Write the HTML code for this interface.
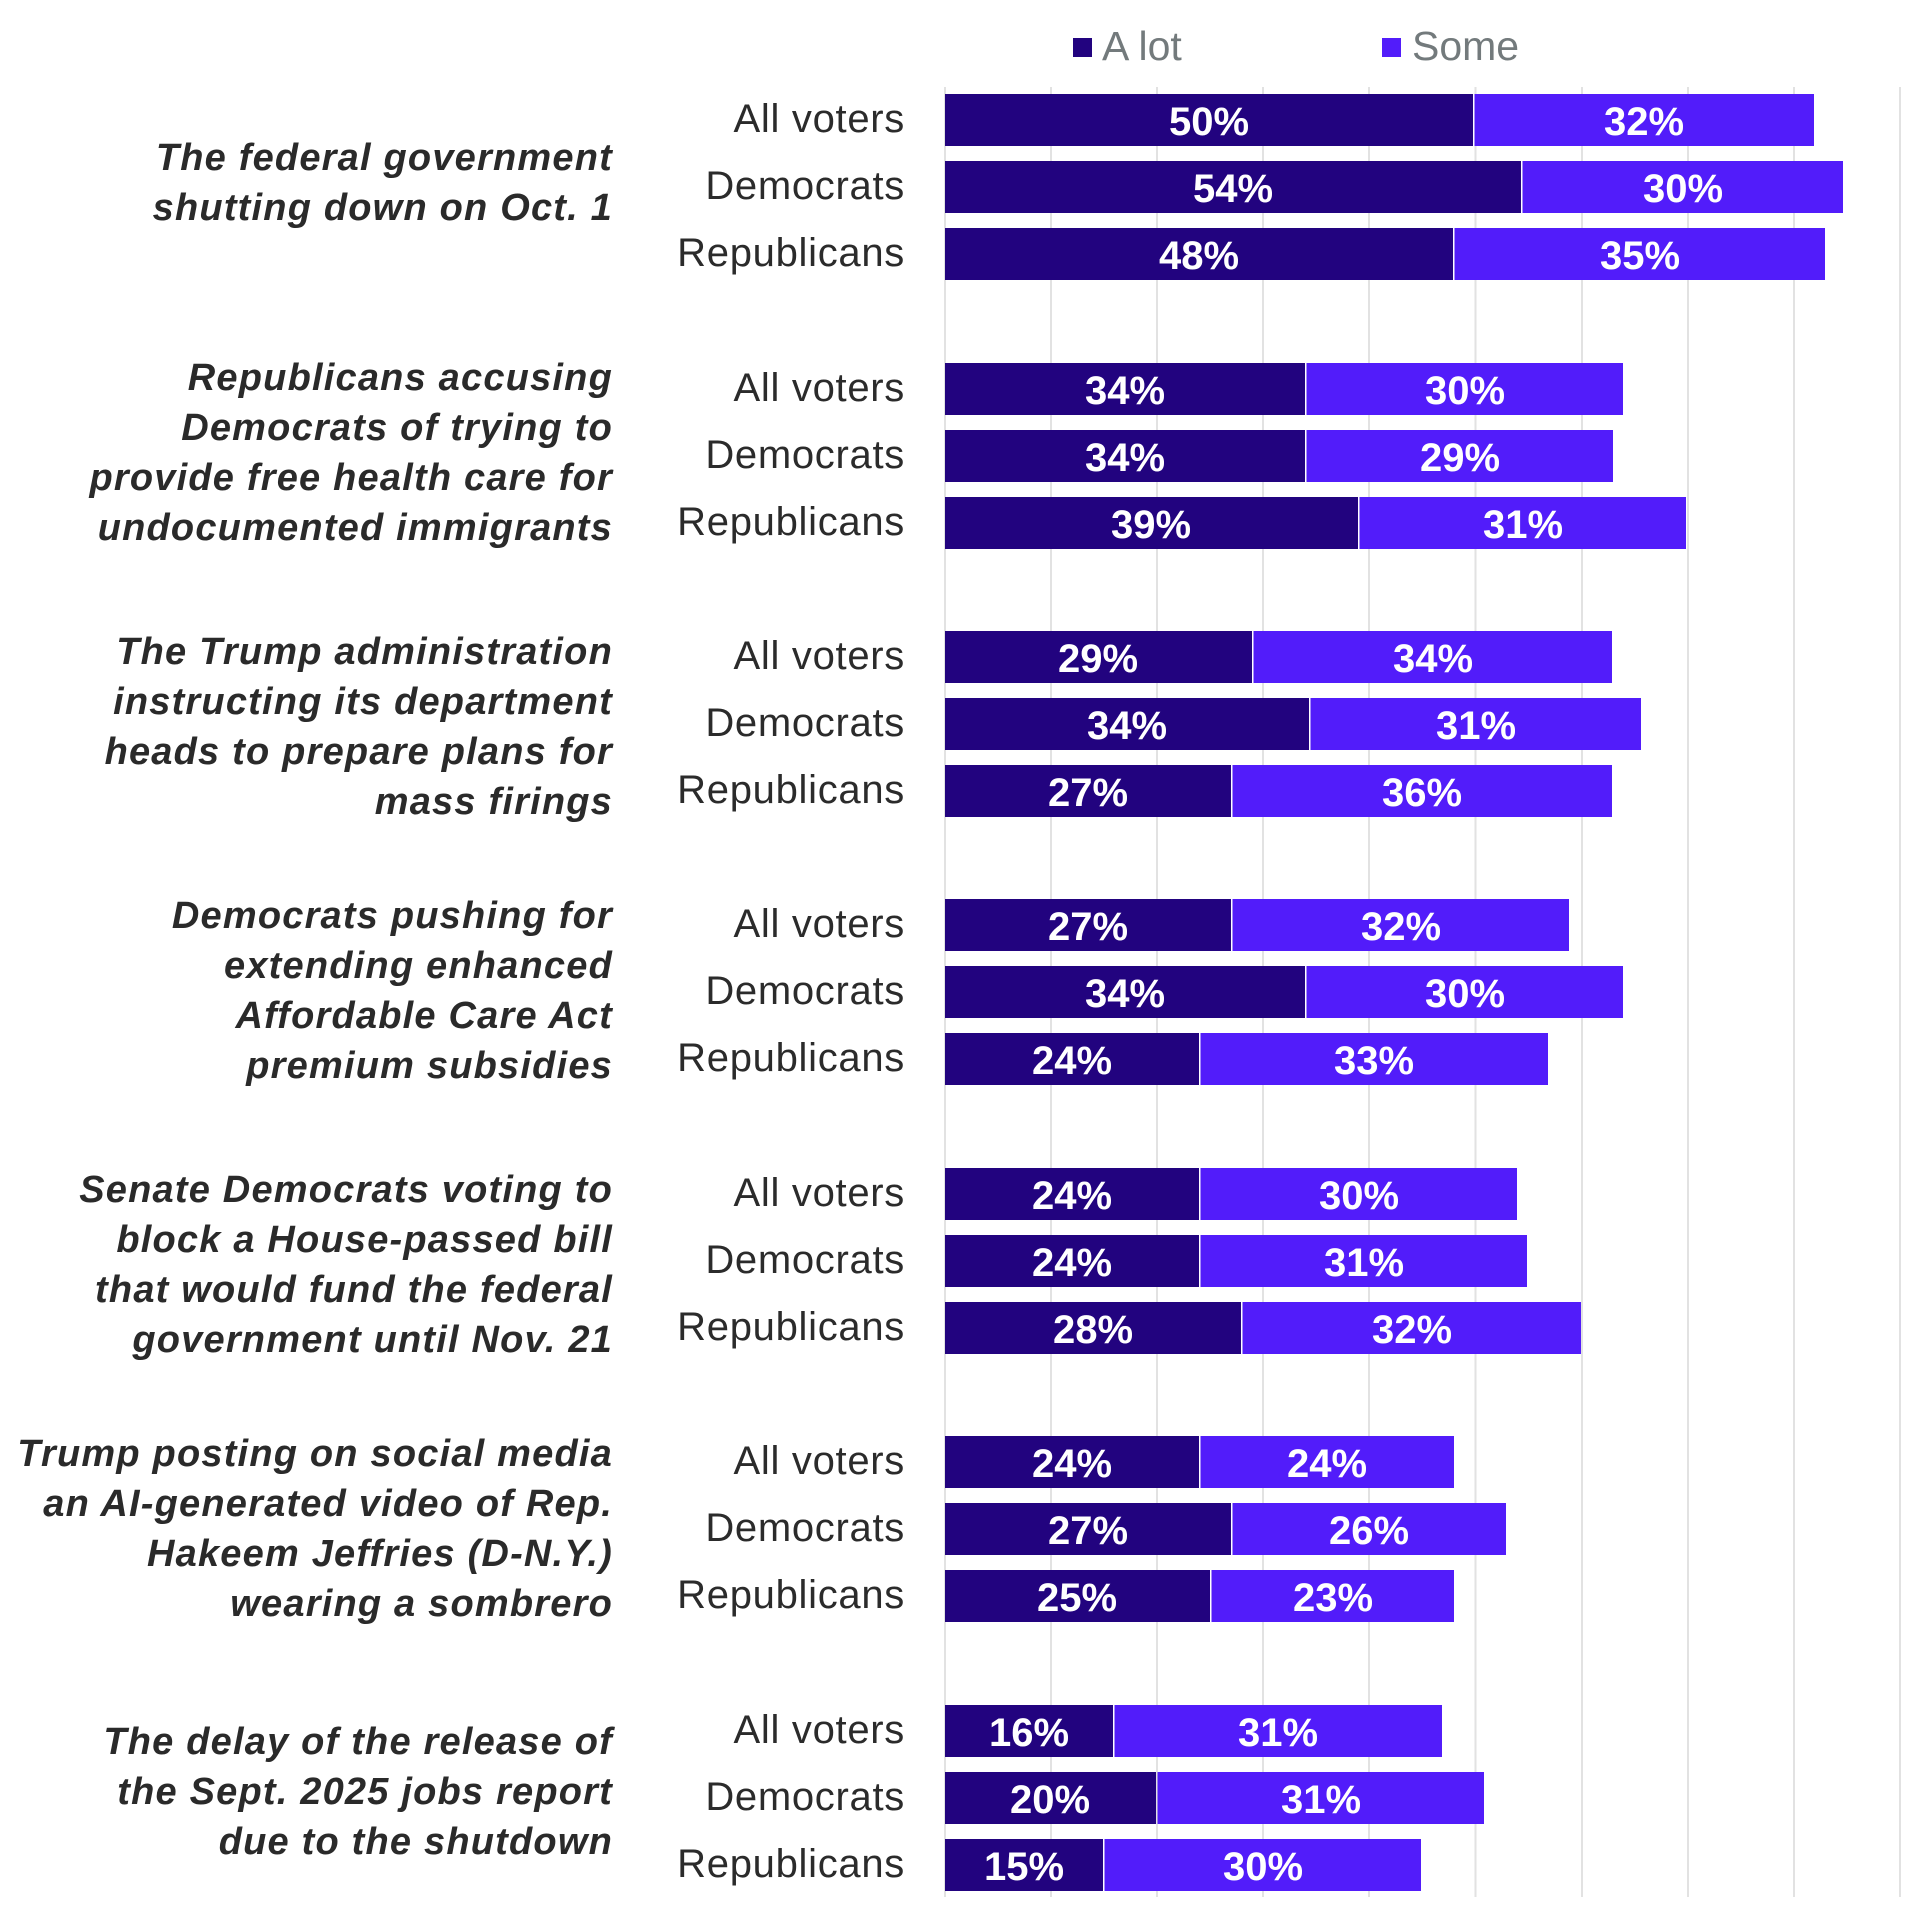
<!DOCTYPE html>
<html>
<head>
<meta charset="utf-8">
<style>
  html, body { margin: 0; padding: 0; background: #ffffff; }
  svg { display: block; }
  .q { font-family: "Liberation Sans", Arial, sans-serif; font-weight: bold; font-style: italic; font-size: 38px; fill: #2a2a2a; letter-spacing: 1.2px; }
  .r { font-family: "Liberation Sans", Arial, sans-serif; font-size: 40px; fill: #2b2b2b; letter-spacing: 0.7px; }
  .v { font-family: "Liberation Sans", Arial, sans-serif; font-weight: bold; font-size: 40px; fill: #ffffff; }
  .lg { font-family: "Liberation Sans", Arial, sans-serif; font-size: 41px; fill: #737a7c; }
</style>
</head>
<body>
<svg width="1920" height="1920" viewBox="0 0 1920 1920" xmlns="http://www.w3.org/2000/svg">
  <rect x="0" y="0" width="1920" height="1920" fill="#ffffff"/>

  <!-- Legend -->
  <rect x="1073" y="38" width="19" height="19" fill="#22037f"/>
  <text class="lg" x="1102" y="60">A lot</text>
  <rect x="1382" y="38" width="19" height="19" fill="#521cfa"/>
  <text class="lg" x="1412" y="60">Some</text>

  <!-- Gridlines -->
  <g stroke="#e2e2e2" stroke-width="2">
    <line x1="945" y1="87" x2="945" y2="1897"/>
    <line x1="1051" y1="87" x2="1051" y2="1897"/>
    <line x1="1157" y1="87" x2="1157" y2="1897"/>
    <line x1="1263" y1="87" x2="1263" y2="1897"/>
    <line x1="1369" y1="87" x2="1369" y2="1897"/>
    <line x1="1475.5" y1="87" x2="1475.5" y2="1897"/>
    <line x1="1582" y1="87" x2="1582" y2="1897"/>
    <line x1="1688" y1="87" x2="1688" y2="1897"/>
    <line x1="1794" y1="87" x2="1794" y2="1897"/>
    <line x1="1900" y1="87" x2="1900" y2="1897"/>
  </g>

  <!-- Bars: dark (A lot) -->
  <g fill="#22037f">
    <rect x="945" y="94" width="528" height="52"/>
    <rect x="945" y="161" width="576" height="52"/>
    <rect x="945" y="228" width="508" height="52"/>

    <rect x="945" y="363" width="360" height="52"/>
    <rect x="945" y="430" width="360" height="52"/>
    <rect x="945" y="497" width="413" height="52"/>

    <rect x="945" y="631" width="307" height="52"/>
    <rect x="945" y="698" width="364" height="52"/>
    <rect x="945" y="765" width="286" height="52"/>

    <rect x="945" y="899" width="286" height="52"/>
    <rect x="945" y="966" width="360" height="52"/>
    <rect x="945" y="1033" width="254" height="52"/>

    <rect x="945" y="1168" width="254" height="52"/>
    <rect x="945" y="1235" width="254" height="52"/>
    <rect x="945" y="1302" width="296" height="52"/>

    <rect x="945" y="1436" width="254" height="52"/>
    <rect x="945" y="1503" width="286" height="52"/>
    <rect x="945" y="1570" width="265" height="52"/>

    <rect x="945" y="1705" width="168" height="52"/>
    <rect x="945" y="1772" width="211" height="52"/>
    <rect x="945" y="1839" width="158" height="52"/>
  </g>

  <!-- Bars: bright (Some) -->
  <g fill="#521cfa">
    <rect x="1474.5" y="94" width="339.5" height="52"/>
    <rect x="1522.5" y="161" width="320.5" height="52"/>
    <rect x="1454.5" y="228" width="370.5" height="52"/>

    <rect x="1306.5" y="363" width="316.5" height="52"/>
    <rect x="1306.5" y="430" width="306.5" height="52"/>
    <rect x="1359.5" y="497" width="326.5" height="52"/>

    <rect x="1253.5" y="631" width="358.5" height="52"/>
    <rect x="1310.5" y="698" width="330.5" height="52"/>
    <rect x="1232.5" y="765" width="379.5" height="52"/>

    <rect x="1232.5" y="899" width="336.5" height="52"/>
    <rect x="1306.5" y="966" width="316.5" height="52"/>
    <rect x="1200.5" y="1033" width="347.5" height="52"/>

    <rect x="1200.5" y="1168" width="316.5" height="52"/>
    <rect x="1200.5" y="1235" width="326.5" height="52"/>
    <rect x="1242.5" y="1302" width="338.5" height="52"/>

    <rect x="1200.5" y="1436" width="253.5" height="52"/>
    <rect x="1232.5" y="1503" width="273.5" height="52"/>
    <rect x="1211.5" y="1570" width="242.5" height="52"/>

    <rect x="1114.5" y="1705" width="327.5" height="52"/>
    <rect x="1157.5" y="1772" width="326.5" height="52"/>
    <rect x="1104.5" y="1839" width="316.5" height="52"/>
  </g>

  <!-- Value labels -->
  <g class="v" text-anchor="middle">
    <text x="1209" y="135">50%</text><text x="1644" y="135">32%</text>
    <text x="1233" y="202">54%</text><text x="1683" y="202">30%</text>
    <text x="1199" y="269">48%</text><text x="1640" y="269">35%</text>

    <text x="1125" y="404">34%</text><text x="1465" y="404">30%</text>
    <text x="1125" y="471">34%</text><text x="1460" y="471">29%</text>
    <text x="1151" y="538">39%</text><text x="1523" y="538">31%</text>

    <text x="1098" y="672">29%</text><text x="1433" y="672">34%</text>
    <text x="1127" y="739">34%</text><text x="1476" y="739">31%</text>
    <text x="1088" y="806">27%</text><text x="1422" y="806">36%</text>

    <text x="1088" y="940">27%</text><text x="1401" y="940">32%</text>
    <text x="1125" y="1007">34%</text><text x="1465" y="1007">30%</text>
    <text x="1072" y="1074">24%</text><text x="1374" y="1074">33%</text>

    <text x="1072" y="1209">24%</text><text x="1359" y="1209">30%</text>
    <text x="1072" y="1276">24%</text><text x="1364" y="1276">31%</text>
    <text x="1093" y="1343">28%</text><text x="1412" y="1343">32%</text>

    <text x="1072" y="1477">24%</text><text x="1327" y="1477">24%</text>
    <text x="1088" y="1544">27%</text><text x="1369" y="1544">26%</text>
    <text x="1077" y="1611">25%</text><text x="1333" y="1611">23%</text>

    <text x="1029" y="1746">16%</text><text x="1278" y="1746">31%</text>
    <text x="1050" y="1813">20%</text><text x="1321" y="1813">31%</text>
    <text x="1024" y="1880">15%</text><text x="1263" y="1880">30%</text>
  </g>

  <!-- Row labels -->
  <g class="r" text-anchor="end">
    <text x="905" y="132">All voters</text>
    <text x="905" y="199">Democrats</text>
    <text x="905" y="266">Republicans</text>

    <text x="905" y="401">All voters</text>
    <text x="905" y="468">Democrats</text>
    <text x="905" y="535">Republicans</text>

    <text x="905" y="669">All voters</text>
    <text x="905" y="736">Democrats</text>
    <text x="905" y="803">Republicans</text>

    <text x="905" y="937">All voters</text>
    <text x="905" y="1004">Democrats</text>
    <text x="905" y="1071">Republicans</text>

    <text x="905" y="1206">All voters</text>
    <text x="905" y="1273">Democrats</text>
    <text x="905" y="1340">Republicans</text>

    <text x="905" y="1474">All voters</text>
    <text x="905" y="1541">Democrats</text>
    <text x="905" y="1608">Republicans</text>

    <text x="905" y="1743">All voters</text>
    <text x="905" y="1810">Democrats</text>
    <text x="905" y="1877">Republicans</text>
  </g>

  <!-- Question labels -->
  <g class="q" text-anchor="end">
    <text x="613" y="170">The federal government</text>
    <text x="613" y="220">shutting down on Oct. 1</text>

    <text x="613" y="390">Republicans accusing</text>
    <text x="613" y="440">Democrats of trying to</text>
    <text x="613" y="490">provide free health care for</text>
    <text x="613" y="540">undocumented immigrants</text>

    <text x="613" y="664">The Trump administration</text>
    <text x="613" y="714">instructing its department</text>
    <text x="613" y="764">heads to prepare plans for</text>
    <text x="613" y="814">mass firings</text>

    <text x="613" y="928">Democrats pushing for</text>
    <text x="613" y="978">extending enhanced</text>
    <text x="613" y="1028">Affordable Care Act</text>
    <text x="613" y="1078">premium subsidies</text>

    <text x="613" y="1202">Senate Democrats voting to</text>
    <text x="613" y="1252">block a House-passed bill</text>
    <text x="613" y="1302">that would fund the federal</text>
    <text x="613" y="1352">government until Nov. 21</text>

    <text x="613" y="1466">Trump posting on social media</text>
    <text x="613" y="1516">an AI-generated video of Rep.</text>
    <text x="613" y="1566">Hakeem Jeffries (D-N.Y.)</text>
    <text x="613" y="1616">wearing a sombrero</text>

    <text x="613" y="1754">The delay of the release of</text>
    <text x="613" y="1804">the Sept. 2025 jobs report</text>
    <text x="613" y="1854">due to the shutdown</text>
  </g>
</svg>
</body>
</html>
